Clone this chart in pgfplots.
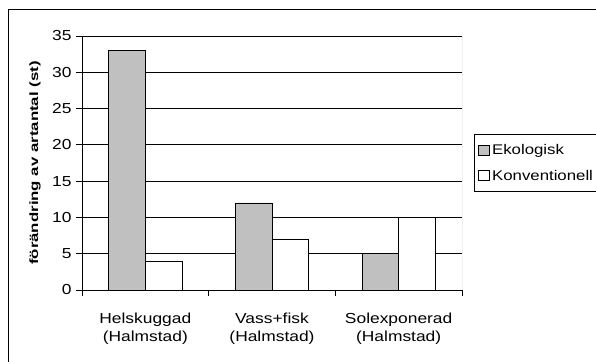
\documentclass[border=0pt]{standalone}
\usepackage{fontspec}
\setmainfont{Liberation Sans}[FakeStretch=1.2]
\newfontfamily\labfont{Liberation Sans}[FakeStretch=1.4]
\usepackage{pgfplots}
\pgfplotsset{compat=1.18}
\definecolor{barg}{HTML}{C0C0C0}
\begin{document}
\begin{tikzpicture}[font=\fontsize{14bp}{17bp}\selectfont]
\path[use as bounding box] (0,0) rectangle (596bp,362bp);
\clip (0,0) rectangle (596bp,362bp);
\fill[white] (0,0) rectangle (596bp,362bp);
\draw[black, line width=1bp] (8bp,352bp) rectangle (700bp,-50bp);
\begin{axis}[
  at={(82bp,72bp)}, anchor=south west,
  scale only axis, width=380bp, height=254bp,
  xmin=-0.5, xmax=2.5, ymin=0, ymax=35,
  ytick={0,5,...,35},
  xtick={0,1,2},
  xticklabels={{Helskuggad\\(Halmstad)},{Vass+fisk\\(Halmstad)},{Solexponerad\\(Halmstad)}},
  minor xtick={-0.5,0.5,1.5,2.5},
  major x tick style={draw=none},
  tick align=outside,
  major tick length=6bp, minor tick length=6bp,
  axis x line*=bottom, axis y line*=left,
  axis line style={black, line width=0.75bp, -},
  ymajorgrids, grid style={black, line width=0.75bp},
  tick style={black, line width=0.75bp},
  /pgf/number format/assume math mode=true,
  tick label style={font=\fontsize{14.5bp}{18bp}\selectfont},
  yticklabel style={xshift=-1bp},
  xticklabel style={align=center, yshift=-13bp},
  ylabel={förändring av artantal (st)},
  ylabel style={font=\labfont\bfseries\fontsize{12bp}{14bp}\selectfont, at={(axis description cs:-0.1237,0.5)}, anchor=center},
  ybar=0pt, bar width=36.6bp,
  legend style={at={(rel axis cs:1.0316,0.614)}, anchor=north west, draw=black, line width=0.75bp,
    font=\fontsize{14bp}{16bp}\selectfont, legend cell align=left, row sep=10bp,
    inner xsep=4bp, inner ysep=8bp},
  legend image code/.code={\draw[#1, line width=0.75bp] (0bp,-5bp) rectangle (11bp,5bp);},
]
\addplot[fill=barg, draw=black, line width=0.75bp] coordinates {(0,33) (1,12) (2,5)};
\addplot[fill=white, draw=black, line width=0.75bp] coordinates {(0,4) (1,7) (2,10)};
\legend{Ekologisk, Konventionell}
\draw[gray, line width=0.75bp] (rel axis cs:1,0) -- (rel axis cs:1,1);
\end{axis}
\end{tikzpicture}
\end{document}
